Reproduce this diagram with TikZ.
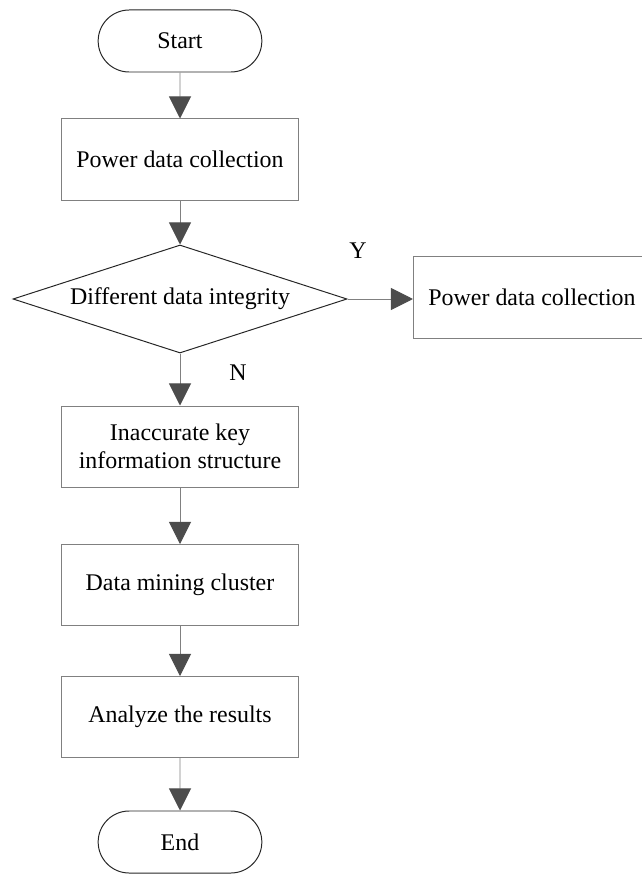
\documentclass[tikz,border=0pt]{standalone}
\usepackage{fontspec}
\setmainfont{Liberation Serif}
\usetikzlibrary{shapes.geometric, shapes.misc, arrows.meta}

\begin{document}
\begin{tikzpicture}[
        x=0.025cm, y=-0.025cm,
        font=\fontsize{17}{20}\selectfont,
        block/.style={rectangle, draw=black!50, line width=0.7pt, minimum width=5.925cm, minimum height=2.025cm, align=center},
        term/.style={rounded rectangle, draw=black!85, line width=0.7pt, minimum width=4.325cm, minimum height=1.55cm},
        decision/.style={diamond, draw=black!85, line width=0.7pt, shape aspect=3.09, inner sep=0pt, minimum width=8.35cm, minimum height=2.7cm},
        arrow/.style={-{Triangle[width=0.55cm, length=0.55cm, color=black!70]}, draw=black!50, line width=0.7pt}
    ]
        \useasboundingbox (0,0) rectangle (641,874);

        % Start
        \node[term] (start) at (180,41) {Start};

        % Collection
        \node[block] (collect) at (180,159.5) {Power data collection};

        % Decision
        \node[decision] (check) at (180,299) {Different data integrity};
        \node[block] (collect2) at (532,297.5) {Power data collection};
        \node (yes) at (358,251) {Y};
        \node (no) at (238,373) {N};

        % Processing
        \node[block] (struct) at (180,446.5) {Inaccurate key\\information structure};
        \node[block] (mining) at (180,585) {Data mining cluster};
        \node[block] (analyze) at (180,717) {Analyze the results};

        % End
        \node[term] (stop) at (180,842) {End};

        \draw[arrow] (start) -- (collect);
        \draw[arrow] (collect) -- (check);
        \draw[arrow] (check.east) -- (collect2.west |- check.east);
        \draw[arrow] (check) -- (struct);
        \draw[arrow] (struct) -- (mining);
        \draw[arrow] (mining) -- (analyze);
        \draw[arrow] (analyze) -- (stop);
    \end{tikzpicture}
\end{document}
